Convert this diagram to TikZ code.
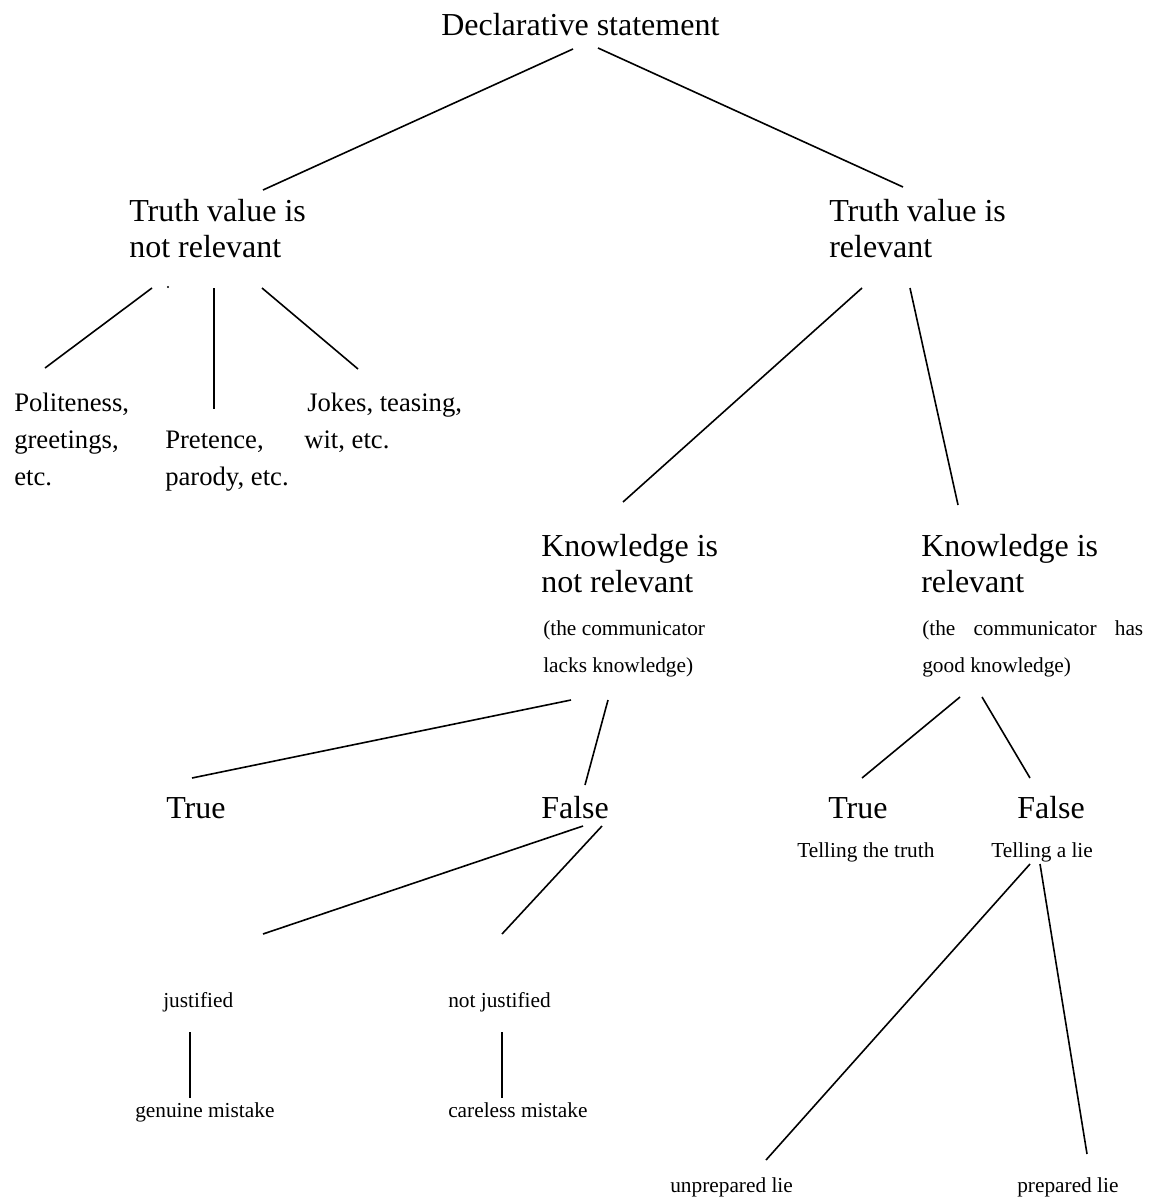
\documentclass[tikz,border=0pt]{standalone}
\usepackage{fontspec}
\setmainfont{Liberation Serif}
\newcommand{\mystack}[1]{\begin{tabular}[t]{@{}l@{}}#1\end{tabular}}
\begin{document}
\begin{tikzpicture}[x=0.75pt,y=-0.75pt,
  big/.style={font=\fontsize{24pt}{27pt}\selectfont, inner sep=0pt, anchor=base west},
  mid/.style={font=\fontsize{20pt}{27.75pt}\selectfont, inner sep=0pt, anchor=base west},
  small/.style={font=\fontsize{16pt}{27.75pt}\selectfont, inner sep=0pt, anchor=base west},
  branch/.style={line width=1.2pt}]
\fill[white] (0,0) rectangle (1152,1198);
\useasboundingbox (0,0) rectangle (1152,1198);

% texts
\node[big] (decl) at (441,36) {Declarative statement};
\node[big] (tvnr) at (129,222) {\mystack{Truth value is\\not relevant}};
\node[big] (tvr) at (829,222) {\mystack{Truth value is\\relevant}};
\node[mid] (pol) at (14,411) {\mystack{Politeness,\\greetings,\\etc.}};
\node[mid] (pre) at (165,448) {\mystack{Pretence,\\parody, etc.}};
\node[mid] (jok) at (304,411) {\mystack{\hspace{2.25pt}Jokes, teasing,\\wit, etc.}};
\node[circle, fill=black, inner sep=0pt, minimum size=1.8pt] (dot) at (168,287) {};

\node[big] (knr) at (541,556) {\mystack{Knowledge is\\not relevant}};
\node[small] (knrs) at (543,635) {\mystack{(the communicator\\lacks knowledge)}};
\node[big] (kr) at (921,556) {\mystack{Knowledge is\\relevant}};
\node[small] (krs) at (922,635) {\mystack{\makebox[165.75pt][s]{(the communicator has}\\good knowledge)}};

\node[big] (true1) at (166,818) {True};
\node[big] (false1) at (541,818) {False};
\node[big] (true2) at (828,818) {True};
\node[big] (false2) at (1017,818) {False};
\node[small] (tell1) at (797,857) {Telling the truth};
\node[small] (tell2) at (991,857) {Telling a lie};

\node[small] (just) at (163,1007) {justified};
\node[small] (njust) at (448,1007) {not justified};
\node[small] (genu) at (135,1117) {genuine mistake};
\node[small] (care) at (448,1117) {careless mistake};
\node[small] (unprep) at (670,1192) {unprepared lie};
\node[small] (prep) at (1017,1192) {prepared lie};

% connector end points
\coordinate (d1) at (573,49);   \coordinate (d1e) at (263,190);
\coordinate (d2) at (598,48);   \coordinate (d2e) at (903,187);
\coordinate (a1) at (152,288);  \coordinate (a1e) at (45,368);
\coordinate (a2) at (214,288);  \coordinate (a2e) at (214,409);
\coordinate (a3) at (262,288);  \coordinate (a3e) at (358,369);
\coordinate (b1) at (862,288);  \coordinate (b1e) at (623,502);
\coordinate (b2) at (910,288);  \coordinate (b2e) at (958,505);
\coordinate (c1) at (571,700);  \coordinate (c1e) at (192,778);
\coordinate (c2) at (608,700);  \coordinate (c2e) at (585,785);
\coordinate (e1) at (960,697);  \coordinate (e1e) at (862,778);
\coordinate (e2) at (982,697);  \coordinate (e2e) at (1030,778);
\coordinate (f1) at (583,826);  \coordinate (f1e) at (263,934);
\coordinate (f2) at (602,826);  \coordinate (f2e) at (502,934);
\coordinate (g1) at (190,1032); \coordinate (g1e) at (190,1098);
\coordinate (g2) at (502,1032); \coordinate (g2e) at (502,1098);
\coordinate (h1) at (1030,864); \coordinate (h1e) at (766,1160);
\coordinate (h2) at (1040,864); \coordinate (h2e) at (1087,1154);

\draw[branch] (d1) -- (d1e);
\draw[branch] (d2) -- (d2e);
\draw[branch] (a1) -- (a1e);
\draw[branch] (a2) -- (a2e);
\draw[branch] (a3) -- (a3e);
\draw[branch] (b1) -- (b1e);
\draw[branch] (b2) -- (b2e);
\draw[branch] (c1) -- (c1e);
\draw[branch] (c2) -- (c2e);
\draw[branch] (e1) -- (e1e);
\draw[branch] (e2) -- (e2e);
\draw[branch] (f1) -- (f1e);
\draw[branch] (f2) -- (f2e);
\draw[branch] (g1) -- (g1e);
\draw[branch] (g2) -- (g2e);
\draw[branch] (h1) -- (h1e);
\draw[branch] (h2) -- (h2e);
\end{tikzpicture}
\end{document}
